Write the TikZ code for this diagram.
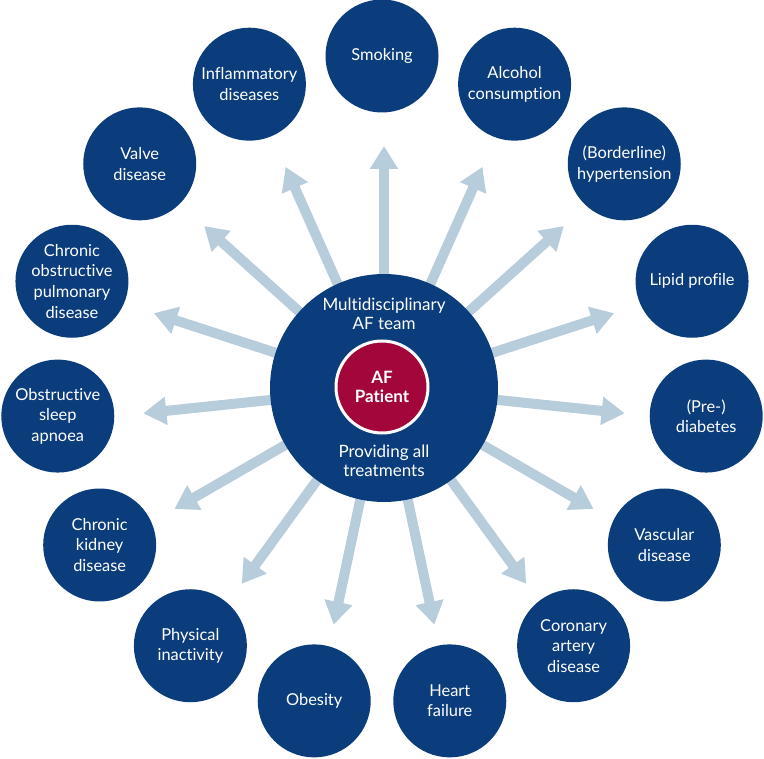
\documentclass[tikz,border=0pt]{standalone}
\usepackage{fontspec}
\setmainfont{Lato}[Ligatures=NoCommon]
\usetikzlibrary{arrows.meta,backgrounds,calc}
\definecolor{navy}{HTML}{0B3D7C}
\definecolor{afred}{HTML}{A3063A}
\definecolor{arrowblue}{HTML}{B8CDDB}
\begin{document}
\begin{tikzpicture}[x=1pt,y=-1pt,
  risk/.style={circle,fill=navy,minimum size=113pt,inner sep=0pt,text=white,align=center,
    font=\fontsize{16.4}{20.6}\selectfont},
  ray/.style={draw=arrowblue,line width=10pt,-{Triangle[width=27pt,length=23pt,fill=arrowblue]}},
  hubtext/.style={text=white,align=center,font=\fontsize{17}{19.5}\selectfont}]
\useasboundingbox (0,0) rectangle (764,759);
\coordinate (ring) at (382,382);
\node[circle,fill=navy,minimum size=228pt,inner sep=0pt] (team) at (384,388) {};
\node[circle,fill=afred,draw=white,line width=3pt,minimum size=92pt,inner sep=0pt,
  text=white,align=center,font=\fontsize{17}{19.5}\selectfont\bfseries] (patient) at (382,387) {AF\\Patient};
\node[hubtext] (teamlabel) at (384,314) {Multidisciplinary\\AF team};
\node[hubtext] (treatlabel) at (384,461) {Providing all\\treatments};
\foreach \t [count=\i from 0] in {Smoking,{Alcohol\\consumption},{(Borderline)\\hypertension},
  {Lipid profile},{(Pre-)\\diabetes},{Vascular\\disease},{Coronary\\artery\\disease},
  {Heart\\failure},Obesity,{Physical\\inactivity},{Chronic\\kidney\\disease},
  {Obstructive\\sleep\\apnoea},{Chronic\\obstructive\\pulmonary\\disease},
  {Valve\\disease},{Inflammatory\\diseases}}{
  \node[risk] (r\i) at ($(ring)+(90-24*\i:326pt)$) {\t};
  \coordinate (tip\i) at ($(team.center)+(90-24*\i:242pt)$);
}
\begin{scope}[on background layer]
\foreach \i in {0,...,14}{
  \draw[ray] (team.center) -- (tip\i);
}
\end{scope}
\end{tikzpicture}
\end{document}
